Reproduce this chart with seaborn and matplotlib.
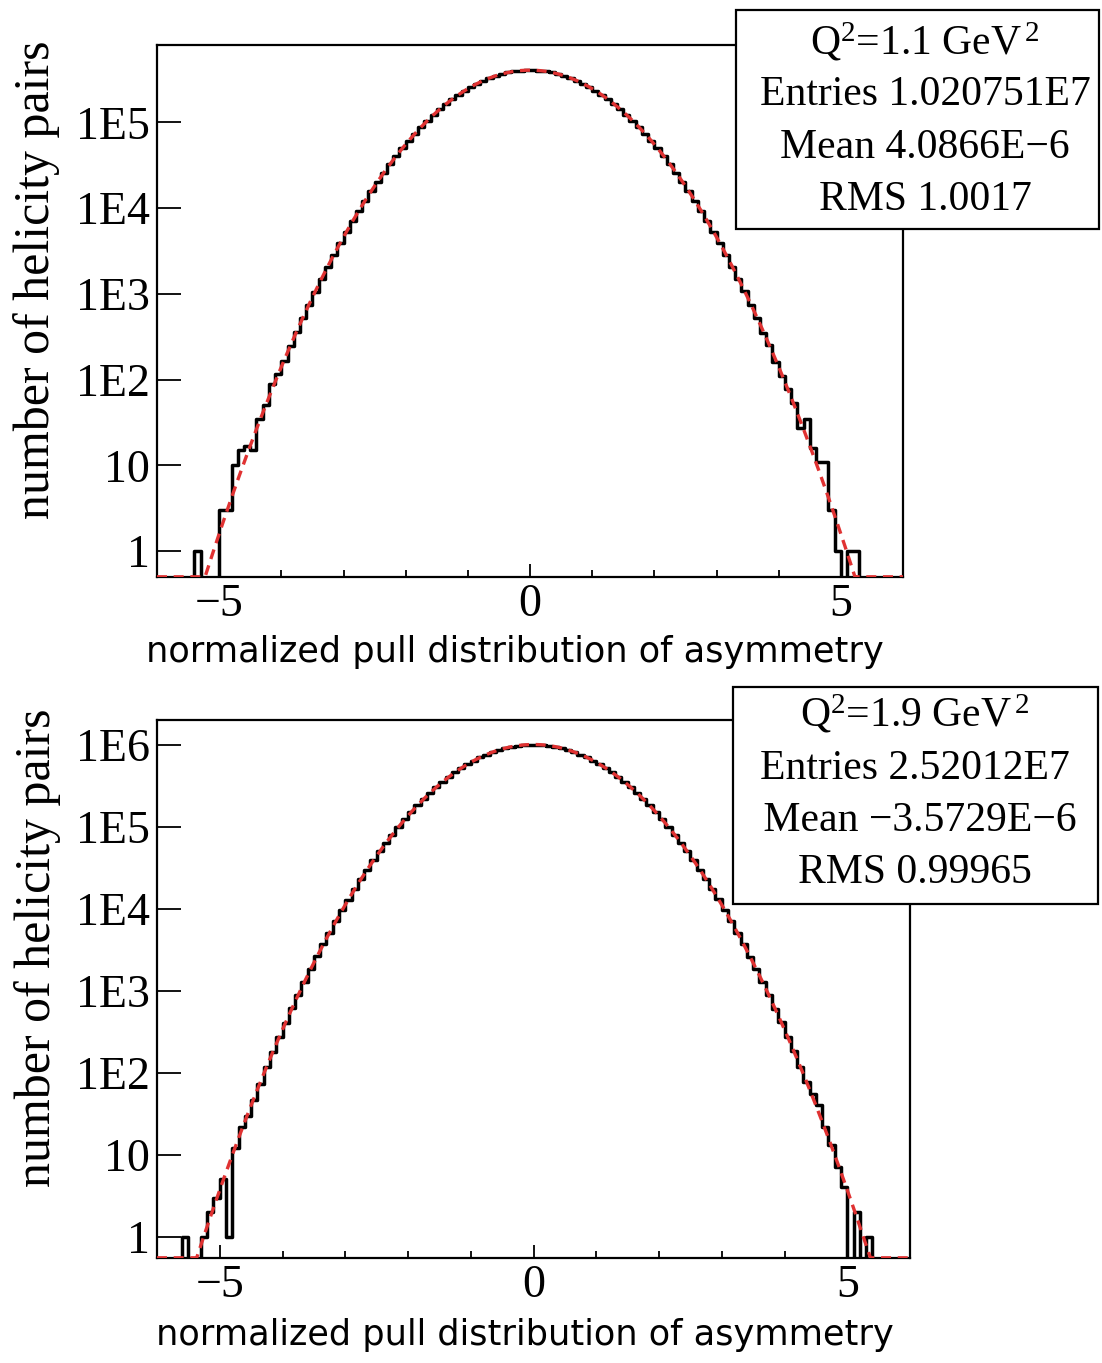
import numpy as np
import matplotlib
matplotlib.use("Agg")
import matplotlib.pyplot as plt
import seaborn as sns
from matplotlib.patches import Rectangle
from matplotlib.ticker import LogLocator, NullFormatter, FixedLocator, FixedFormatter

# ---------------- data ----------------
bin_lo, bin_hi, n_bins = -6.0, 6.0, 120

# top panel, Q^2 = 1.1 GeV^2 : bin contents, centres -5.95 ... -0.05
top_counts_neg = [
    0, 0, 0, 0, 0, 0, 1, 0, 0, 0,
    3, 3, 10, 15, 17, 15, 35, 51, 88, 118,
    167, 246, 360, 521, 747, 1060, 1489, 2071, 2852, 3889,
    5250, 7016, 9283, 12160, 15771, 20250, 25742, 32400, 40374, 49809,
    60833, 73564, 88073, 104400, 122510, 142330, 163710, 186450, 210220, 234670,
    259340, 283770, 307400, 329690, 350080, 368020, 383050, 394710, 402690, 406730,
]
# centres 0.05 ... 5.95
top_counts_pos = [
    406880, 402410, 394920, 382870, 368240, 349860, 329930, 307150, 283990, 259120,
    234810, 210040, 186610, 163540, 142480, 122390, 104510, 87960, 73650, 60760,
    49880, 40310, 32460, 25690, 20290, 15740, 12190, 9260, 7040, 5230,
    3905, 2838, 2084, 1476, 1071, 739, 530, 352, 251, 160,
    110, 78, 54, 27, 35, 16, 11, 11, 3, 1,
    0, 1, 1, 0, 0, 0, 0, 0, 0, 0,
]

# bottom panel, Q^2 = 1.9 GeV^2
bot_counts_neg = [
    0, 0, 0, 0, 1, 0, 0, 1, 2, 3,
    5, 1, 12, 22, 30, 46, 72, 118, 180, 274,
    409, 610, 886, 1290, 1838, 2621, 3669, 5121, 7030, 9615,
    12940, 17340, 22890, 30050, 38900, 50030, 63510, 80030, 99610, 123020,
    150110, 181680, 217350, 257820, 302350, 351460, 404080, 460380, 518910, 579440,
    640150, 700680, 758790, 814030, 864140, 908670, 945540, 974560, 994030, 1004230,
]
bot_counts_pos = [
    1004010, 994250, 974330, 945760, 908450, 864360, 813810, 759010, 700460, 640370,
    579260, 519090, 460200, 404260, 351300, 302530, 257660, 217510, 181540, 150250,
    122910, 99740, 79950, 63590, 49960, 38970, 29990, 22950, 17300, 12980,
    9588, 7055, 5104, 3684, 2609, 1851, 1279, 895, 603, 415,
    270, 186, 117, 78, 55, 40, 22, 13, 7, 4,
    0, 2, 0, 1, 0, 0, 0, 0, 0, 0,
]

# Gaussian fit parameters (constant, mean, sigma)
top_fit = (407240.0, 4.1e-6, 1.002)
bot_fit = (1005380.0, -3.6e-6, 0.9997)

top_stats = [r"Q$^{2}$=1.1 GeV$^{\,2}$", "Entries 1.020751E7", "Mean 4.0866E\u22126", "RMS 1.0017"]
bot_stats = [r"Q$^{2}$=1.9 GeV$^{\,2}$", "Entries 2.52012E7", " Mean \u22123.5729E\u22126", "RMS 0.99965"]

xtick_major = [-5, 0, 5]
xtick_labels = ["\u22125", "0", "5"]
xtick_minor = [-4, -3, -2, -1, 1, 2, 3, 4]
top_yticks = [1, 10, 1e2, 1e3, 1e4, 1e5]
top_ylabels = ["1", "10", "1E2", "1E3", "1E4", "1E5"]
bot_yticks = [1, 10, 1e2, 1e3, 1e4, 1e5, 1e6]
bot_ylabels = ["1", "10", "1E2", "1E3", "1E4", "1E5", "1E6"]
top_ylim = (0.5, 8.0e5)
bot_ylim = (0.55, 2.0e6)

xlabel = "normalized pull distribution of asymmetry"
ylabel = "number of helicity pairs"

# ---------------- style ----------------
sns.set_style("ticks")
plt.rcParams["font.family"] = ["Liberation Serif", "DejaVu Serif"]
plt.rcParams["mathtext.fontset"] = "custom"
plt.rcParams["mathtext.rm"] = "Liberation Serif"
plt.rcParams["mathtext.it"] = "Liberation Serif:italic"
plt.rcParams["mathtext.bf"] = "Liberation Serif:bold"
for key in ["text.color", "axes.labelcolor", "xtick.color", "ytick.color",
            "xtick.labelcolor", "ytick.labelcolor", "axes.edgecolor"]:
    plt.rcParams[key] = "black"

W, H = 1102, 1363
fig = plt.figure(figsize=(W / 100, H / 100), dpi=100)
fig.patch.set_facecolor("white")

RED = "#e03232"
edges = np.linspace(bin_lo, bin_hi, n_bins + 1)
centres = 0.5 * (edges[:-1] + edges[1:])


def panel(rect, counts, fit, ylim, yticks, ylabels, stats, box, text_x, text_ys,
          ylab_pos, xlab_pos):
    ax = fig.add_axes(rect)
    sns.histplot(x=centres, weights=np.asarray(counts, float), bins=list(edges),
                 element="step", fill=False, color="black", linewidth=2.5,
                 ax=ax, zorder=2)
    ax.set_yscale("log")
    A, mu, sig = fit
    xf = np.linspace(bin_lo, bin_hi, 1200)
    yf = A * np.exp(-0.5 * ((xf - mu) / sig) ** 2)
    yf = np.maximum(yf, ylim[0] * 1.005)
    sns.lineplot(x=xf, y=yf, color=RED, linewidth=2.4, linestyle=(0, (3.0, 2.0)),
                 ax=ax, zorder=3, sort=False, estimator=None)
    ax.set_xlim(bin_lo, bin_hi)
    ax.set_ylim(*ylim)

    ax.xaxis.set_major_locator(FixedLocator(xtick_major))
    ax.xaxis.set_major_formatter(FixedFormatter(xtick_labels))
    ax.xaxis.set_minor_locator(FixedLocator(xtick_minor))
    ax.yaxis.set_major_locator(FixedLocator(yticks))
    ax.yaxis.set_major_formatter(FixedFormatter(ylabels))
    ax.yaxis.set_minor_locator(LogLocator(base=10, subs=np.arange(2, 10)))
    ax.yaxis.set_minor_formatter(NullFormatter())

    ax.tick_params(axis="both", which="both", direction="in", top=False, right=False,
                   width=1.3, color="black", labelcolor="black")
    ax.tick_params(axis="x", which="major", length=9.5, pad=5, labelsize=33)
    ax.tick_params(axis="x", which="minor", length=5)
    ax.tick_params(axis="y", which="major", length=17, pad=5, labelsize=33)
    ax.tick_params(axis="y", which="minor", length=8.5)
    for s in ax.spines.values():
        s.set_visible(True)
        s.set_linewidth(1.6)
        s.set_color("black")

    ax.set_xlabel(xlabel, fontsize=25.3, family=["DejaVu Sans"], color="black")
    ax.set_ylabel(ylabel, fontsize=36, color="black")
    ax.xaxis.label.set_va("center")
    ax.yaxis.label.set_va("center")
    ax.xaxis.set_label_coords(*xlab_pos)
    ax.yaxis.set_label_coords(*ylab_pos)

    x0, y0, x1, y1 = box
    fig.add_artist(Rectangle((x0 / W, 1 - y1 / H), (x1 - x0) / W, (y1 - y0) / H,
                             transform=fig.transFigure, facecolor="white",
                             edgecolor="black", linewidth=1.6, zorder=10))
    for t, ty in zip(stats, text_ys):
        fig.text(text_x / W, 1 - ty / H, t, ha="center", va="center",
                 fontsize=30, color="black", zorder=11)
    return ax


panel([157 / W, 1 - 577 / H, 746 / W, 532 / H], top_counts_neg + top_counts_pos,
      top_fit, top_ylim, top_yticks, top_ylabels, top_stats,
      (736, 10, 1099, 229), 925, [42, 95, 148, 200],
      (-0.161, 0.558), (0.48, -0.141))

panel([157 / W, 1 - 1258 / H, 753 / W, 538 / H], bot_counts_neg + bot_counts_pos,
      bot_fit, bot_ylim, bot_yticks, bot_ylabels, bot_stats,
      (733, 687, 1098, 904), 915, [714, 769, 821, 873],
      (-0.159, 0.576), (0.489, -0.143))

fig.savefig("out.png", dpi=100, facecolor="white")
